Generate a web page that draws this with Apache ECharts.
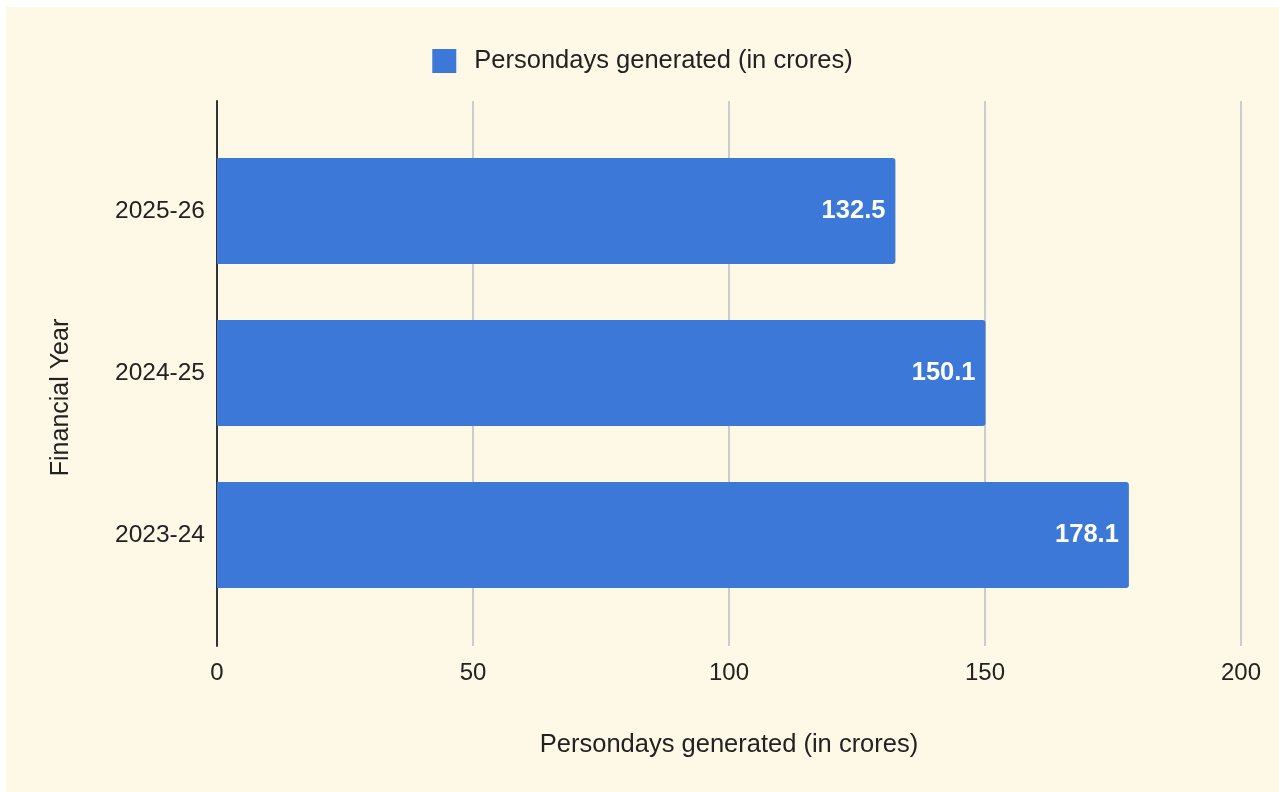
<!DOCTYPE html>
<html>
<head>
<meta charset="utf-8">
<script src="https://cdn.jsdelivr.net/npm/echarts@6/dist/echarts.min.js"></script>
<style>
  html, body { margin: 0; padding: 0; background: #ffffff; }
  #chart { position: absolute; left: 6px; top: 7px; width: 1273px; height: 785px; }
</style>
</head>
<body>
<div id="chart"></div>
<script>
// data
var years = ["2023-24", "2024-25", "2025-26"];
var persondays = [178.1, 150.1, 132.5];
var seriesName = "Persondays generated (in crores)";
var xTicks = [0, 50, 100, 150, 200];

var font = "Liberation Sans, Arial, sans-serif";
var chart = echarts.init(document.getElementById("chart"));

chart.setOption({
  backgroundColor: "#fef8e7",
  textStyle: { fontFamily: font },
  legend: {
    top: 36,
    left: "center",
    itemWidth: 24,
    itemHeight: 24,
    icon: "rect",
    textStyle: { fontSize: 25.5, color: "#222", padding: [0, 0, 0, 13] },
    data: [seriesName]
  },
  grid: [
    // outer grid: gridlines, y axis line, x labels
    { left: 211, right: 38, top: 94, bottom: 146 },
    // inner grid: bars and category labels
    { left: 211, right: 38, top: 123, bottom: 176 }
  ],
  xAxis: [
    {
      gridIndex: 0,
      type: "value",
      min: xTicks[0],
      max: xTicks[xTicks.length - 1],
      interval: 50,
      name: seriesName,
      nameLocation: "middle",
      nameGap: 86,
      nameTextStyle: { fontSize: 25.5, color: "#222" },
      axisLine: { show: false },
      axisTick: { show: false },
      axisLabel: { fontSize: 24, color: "#222", margin: 15 },
      splitLine: { lineStyle: { color: "#cccccc", width: 2 } }
    },
    {
      gridIndex: 1,
      type: "value",
      min: xTicks[0],
      max: xTicks[xTicks.length - 1],
      show: false,
      splitLine: { show: false }
    }
  ],
  yAxis: [
    {
      gridIndex: 0,
      type: "category",
      data: years,
      name: "Financial Year",
      nameLocation: "middle",
      nameGap: 143,
      nameTextStyle: { fontSize: 25, color: "#222", padding: [0, 48, 0, 0] },
      axisLine: { show: true, lineStyle: { color: "#333", width: 2 } },
      axisTick: { show: false },
      axisLabel: { show: false },
      splitLine: { show: false }
    },
    {
      gridIndex: 1,
      type: "category",
      data: years,
      axisLine: { show: false },
      axisTick: { show: false },
      axisLabel: { fontSize: 24.5, color: "#222", margin: 12 }
    }
  ],
  series: [
    {
      name: seriesName,
      type: "bar",
      xAxisIndex: 1,
      yAxisIndex: 1,
      data: persondays,
      barCategoryGap: "34.6%",
      itemStyle: { color: "#3c78d8", borderRadius: [0, 3, 3, 0] },
      label: {
        show: true,
        position: "insideRight",
        distance: 10,
        color: "#ffffff",
        fontSize: 25.5,
        fontWeight: "bold"
      },
      animation: false
    }
  ],
  animation: false
});
</script>
</body>
</html>
